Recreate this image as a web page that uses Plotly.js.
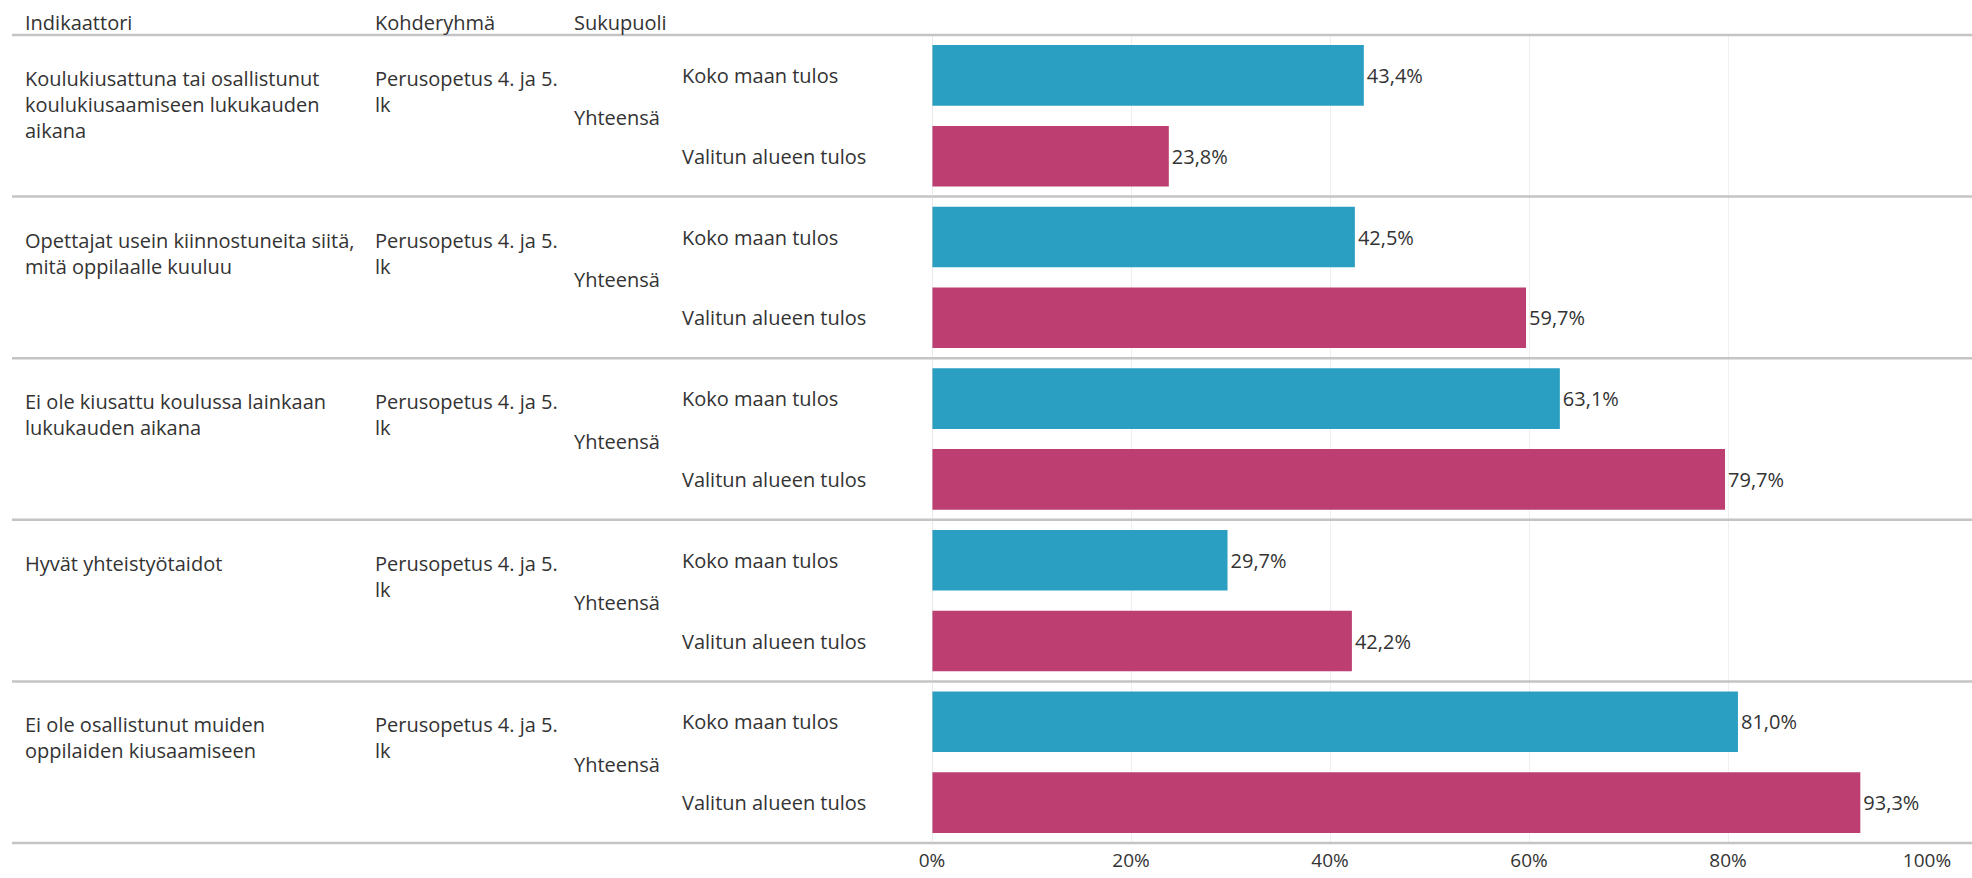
<!DOCTYPE html>
<html>
<head>
<meta charset="utf-8">
<script src="https://cdn.plot.ly/plotly-3.0.1.min.js"></script>
<style>
html, body { margin: 0; padding: 0; background: #ffffff; }
#chart { width: 1972px; height: 878px; }
</style>
</head>
<body>
<div id="chart"></div>
<script>
// ---- data ----
const indicators = [
  "Koulukiusattuna tai osallistunut<br>koulukiusaamiseen lukukauden<br>aikana",
  "Opettajat usein kiinnostuneita siitä,<br>mitä oppilaalle kuuluu",
  "Ei ole kiusattu koulussa lainkaan<br>lukukauden aikana",
  "Hyvät yhteistyötaidot",
  "Ei ole osallistunut muiden<br>oppilaiden kiusaamiseen"
];
const targetGroup = "Perusopetus 4. ja 5.<br>lk";
const genderLabel = "Yhteensä";
const seriesNames = ["Koko maan tulos", "Valitun alueen tulos"];
const nationalValues = [0.434, 0.425, 0.631, 0.297, 0.810];
const regionValues   = [0.238, 0.597, 0.797, 0.422, 0.933];
const headers = ["Indikaattori", "Kohderyhmä", "Sukupuoli"];
const xTickVals = [0, 0.2, 0.4, 0.6, 0.8, 1.0];

// ---- layout helpers ----
const W = 1972, H = 878;
const L = 932, R = 45, T = 35, B = 35;
const plotW = W - L - R;
const px2x = p => (p - L) / plotW;
const FONT = "Open Sans, sans-serif";
const FS = 20;
const TXT = "#333333";
const BLUE = "#2a9fc2";
const PINK = "#bd3e70";

const cats = indicators.map((s, i) => "c" + i);
const n = cats.length;

const traces = [
  {
    type: "bar", orientation: "h", name: seriesNames[0],
    y: cats, x: nationalValues,
    marker: { color: BLUE },
    texttemplate: "%{x:.1%}", textposition: "outside",
    textfont: { family: FONT, size: FS, color: TXT },
    cliponaxis: false, constraintext: "none", hoverinfo: "skip"
  },
  {
    type: "bar", orientation: "h", name: seriesNames[1],
    y: cats, x: regionValues,
    marker: { color: PINK },
    texttemplate: "%{x:.1%}", textposition: "outside",
    textfont: { family: FONT, size: FS, color: TXT },
    cliponaxis: false, constraintext: "none", hoverinfo: "skip"
  }
];

const annotations = [];
const colX = [23, 373, 572];
headers.forEach((h, k) => {
  annotations.push({
    xref: "paper", yref: "paper", x: px2x(colX[k]), y: 1, yshift: 13,
    xanchor: "left", yanchor: "middle", showarrow: false, align: "left",
    text: h, font: { family: FONT, size: FS, color: TXT }
  });
});
indicators.forEach((ind, i) => {
  annotations.push({
    xref: "paper", yref: "y", x: px2x(colX[0]), y: i - 0.5, yshift: -28,
    xanchor: "left", yanchor: "top", showarrow: false, align: "left",
    text: ind, font: { family: FONT, size: FS, color: TXT }
  });
  annotations.push({
    xref: "paper", yref: "y", x: px2x(colX[1]), y: i - 0.5, yshift: -28,
    xanchor: "left", yanchor: "top", showarrow: false, align: "left",
    text: targetGroup, font: { family: FONT, size: FS, color: TXT }
  });
  annotations.push({
    xref: "paper", yref: "y", x: px2x(colX[2]), y: i, yshift: -2,
    xanchor: "left", yanchor: "middle", showarrow: false, align: "left",
    text: genderLabel, font: { family: FONT, size: FS, color: TXT }
  });
  seriesNames.forEach((sn, j) => {
    annotations.push({
      xref: "paper", yref: "y", x: px2x(680), y: i + (j === 0 ? -0.25 : 0.25),
      xanchor: "left", yanchor: "middle", showarrow: false, align: "left",
      text: sn, font: { family: FONT, size: FS, color: TXT }
    });
  });
});

const shapes = [];
for (let i = 0; i <= n; i++) {
  shapes.push({
    type: "line", xref: "paper", yref: "paper",
    x0: px2x(12), x1: px2x(W), y0: 1 - i / n, y1: 1 - i / n,
    line: { color: "#c4c4c4", width: 2.5 }, layer: "above"
  });
}
shapes.push({
  type: "line", xref: "x", yref: "paper", x0: 0, x1: 0, y0: 0, y1: 1,
  line: { color: "#d6d6d6", width: 1 }, layer: "above"
});

const layout = {
  width: W, height: H,
  margin: { l: L, r: R, t: T, b: B, pad: 0 },
  paper_bgcolor: "#ffffff", plot_bgcolor: "#ffffff",
  separators: ", ",
  barmode: "group", bargap: 0.0, bargroupgap: 0.25,
  showlegend: false,
  font: { family: FONT, size: FS, color: TXT },
  xaxis: {
    range: [0, 1], autorange: false, tickvals: xTickVals, tickformat: ".0%",
    showgrid: true, gridcolor: "#efefef", gridwidth: 1,
    zeroline: false, showline: false, ticks: "",
    ticklabelstandoff: 4,
    tickfont: { family: FONT, size: 19, color: TXT },
    fixedrange: true
  },
  yaxis: {
    type: "category", categoryorder: "array", categoryarray: cats,
    range: [n - 0.5, -0.5], autorange: false,
    showticklabels: false, showgrid: false,
    zeroline: false, showline: false, ticks: "", fixedrange: true
  },
  annotations: annotations,
  shapes: shapes
};

Plotly.newPlot("chart", traces, layout, { displayModeBar: false, staticPlot: true });
</script>
</body>
</html>
